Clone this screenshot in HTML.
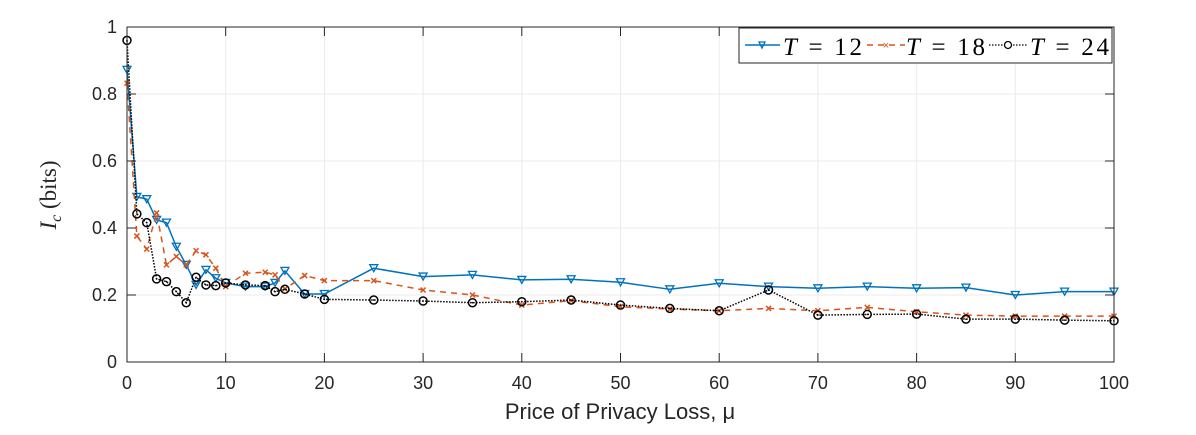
<!DOCTYPE html>
<html><head><meta charset="utf-8"><style>
body{margin:0;background:#fff;}
svg text{font-family:"Liberation Sans",sans-serif;}
</style></head><body>
<svg id="chart" width="1196" height="430" xmlns="http://www.w3.org/2000/svg">
<rect x="0" y="0" width="1196" height="430" fill="#fff"/>
<g id="grid"></g>
<g id="series"></g>
<rect x="127" y="27" width="987" height="335" fill="none" stroke="#262626" stroke-width="1"/>
<g id="ticks"></g>
<text x="620" y="419" text-anchor="middle" font-size="22" fill="#262626">Price of Privacy Loss, μ</text>
<text transform="translate(56,195) rotate(-90)" text-anchor="middle" font-size="23" fill="#262626" style="font-family:'Liberation Serif',serif"><tspan font-style="italic">I</tspan><tspan font-style="italic" font-size="16" dy="5">c</tspan><tspan dy="-5"> (bits)</tspan></text>
<g>
<rect x="739" y="28" width="373" height="35" fill="#fff" stroke="#262626" stroke-width="1"/>
<g>
<line x1="745" y1="45" x2="780" y2="45" stroke="#0072BD" stroke-width="1.5"/>
<path d="M759,42 L765,42 L762,48 Z" fill="none" stroke="#0072BD" stroke-width="1.3"/>
<text x="783" y="55" font-size="25" textLength="79" lengthAdjust="spacing" fill="#000" style="font-family:'Liberation Serif',serif"><tspan font-style="italic">T</tspan> = 12</text></g>
<g>
<line x1="867" y1="45" x2="905" y2="45" stroke="#D95319" stroke-width="1.5" stroke-dasharray="6,5"/>
<text x="886" y="49" font-size="11" text-anchor="middle" fill="#D95319">×</text>
<text x="906" y="55" font-size="25" textLength="79" lengthAdjust="spacing" fill="#000" style="font-family:'Liberation Serif',serif"><tspan font-style="italic">T</tspan> = 18</text></g>
<g>
<line x1="989" y1="45" x2="1028" y2="45" stroke="#000" stroke-width="1.3" stroke-dasharray="1.5,1.5"/>
<circle cx="1008" cy="45" r="3.5" fill="#fff" stroke="#000" stroke-width="1.3"/>
<text x="1030" y="55" font-size="25" textLength="79" lengthAdjust="spacing" fill="#000" style="font-family:'Liberation Serif',serif"><tspan font-style="italic">T</tspan> = 24</text></g>
</g>
</svg>
<script>
const xValues=[0,1,2,3,4,5,6,7,8,9,10,12,14,15,16,18,20,25,30,35,40,45,50,55,60,65,70,75,80,85,90,95,100];
const t12=[0.872,0.493,0.486,0.424,0.416,0.344,0.29,0.23,0.275,0.25,0.236,0.225,0.225,0.236,0.272,0.203,0.203,0.28,0.255,0.26,0.245,0.247,0.238,0.217,0.235,0.225,0.22,0.225,0.22,0.222,0.2,0.21,0.21];
const t18=[0.832,0.376,0.337,0.445,0.29,0.315,0.29,0.332,0.32,0.28,0.225,0.265,0.268,0.26,0.218,0.258,0.243,0.243,0.215,0.2,0.17,0.183,0.165,0.158,0.153,0.16,0.153,0.163,0.15,0.14,0.137,0.137,0.137];
const t24=[0.96,0.442,0.416,0.248,0.24,0.21,0.177,0.253,0.23,0.228,0.236,0.23,0.228,0.21,0.217,0.203,0.187,0.185,0.182,0.177,0.18,0.185,0.17,0.16,0.153,0.215,0.14,0.142,0.143,0.128,0.128,0.125,0.123];
const xTicks=[0,10,20,30,40,50,60,70,80,90,100];
const yTicks=[0,0.2,0.4,0.6,0.8,1];
const yTickLabels=["0","0.2","0.4","0.6","0.8","1"];

const NS="http://www.w3.org/2000/svg";
const X0=127,X1=1114,Y0=362,Y1=27;
function sx(v){return X0+(v/100)*(X1-X0);}
function sy(v){return Y0-v*(Y0-Y1);}
function mk(tag,attrs,parent){const e=document.createElementNS(NS,tag);for(const k in attrs)e.setAttribute(k,attrs[k]);parent.appendChild(e);return e;}
const grid=document.getElementById('grid'),ticks=document.getElementById('ticks'),ser=document.getElementById('series');
xTicks.forEach(v=>{
  const g=mk('line',{x1:sx(v),x2:sx(v),y1:Y1,y2:Y0,stroke:'#ebebeb','stroke-width':1},grid);
  
  
  mk('line',{x1:sx(v),x2:sx(v),y1:Y0,y2:Y0-9,stroke:'#262626'},ticks);
  mk('line',{x1:sx(v),x2:sx(v),y1:Y1,y2:Y1+9,stroke:'#262626'},ticks);
  const t=mk('text',{x:sx(v),y:389,'text-anchor':'middle','font-size':18,fill:'#262626'},ticks);
  t.textContent=v;
  
  
});
yTicks.forEach((v,i)=>{
  const g=mk('line',{x1:X0,x2:X1,y1:sy(v),y2:sy(v),stroke:'#ebebeb','stroke-width':1},grid);
  
  
  mk('line',{x1:X0,x2:X0+9,y1:sy(v),y2:sy(v),stroke:'#262626'},ticks);
  mk('line',{x1:X1,x2:X1-9,y1:sy(v),y2:sy(v),stroke:'#262626'},ticks);
  const t=mk('text',{x:117,y:sy(v)+6,'text-anchor':'end','font-size':18,fill:'#262626'},ticks);
  t.textContent=yTickLabels[i];
  
  
});
function drawSeries(vals,color,dash,width,marker,name){
  const g=mk('g',{},ser);
  
  
  const pts=vals.map((v,i)=>sx(xValues[i])+','+sy(v)).join(' ');
  const attrs={points:pts,fill:'none',stroke:color,'stroke-width':width};
  if(dash)attrs['stroke-dasharray']=dash;
  mk('polyline',attrs,g);
  vals.forEach((v,i)=>{
    const x=sx(xValues[i]),y=sy(v);let m;
    if(marker==='tri')m=mk('path',{d:`M${x-4},${y-3.5} L${x+4},${y-3.5} L${x},${y+3.5} Z`,fill:'none',stroke:color,'stroke-width':1.3},g);
    else if(marker==='x')m=mk('path',{d:`M${x-2.5},${y-2.5} L${x+2.5},${y+2.5} M${x-2.5},${y+2.5} L${x+2.5},${y-2.5}`,stroke:color,'stroke-width':1.5},g);
    else {m=mk('circle',{cx:x,cy:y,r:4,fill:'none',stroke:color,'stroke-width':1.5},g);mk('circle',{cx:x,cy:y,r:0.8,fill:color},g);}
    
    
  });
}
drawSeries(t12,'#0072BD',null,1.5,'tri','series-t12');
drawSeries(t18,'#D95319','6,5',1.5,'x','series-t18');
drawSeries(t24,'#000','1.5,1.5',1.5,'o','series-t24');
</script>
</body></html>
